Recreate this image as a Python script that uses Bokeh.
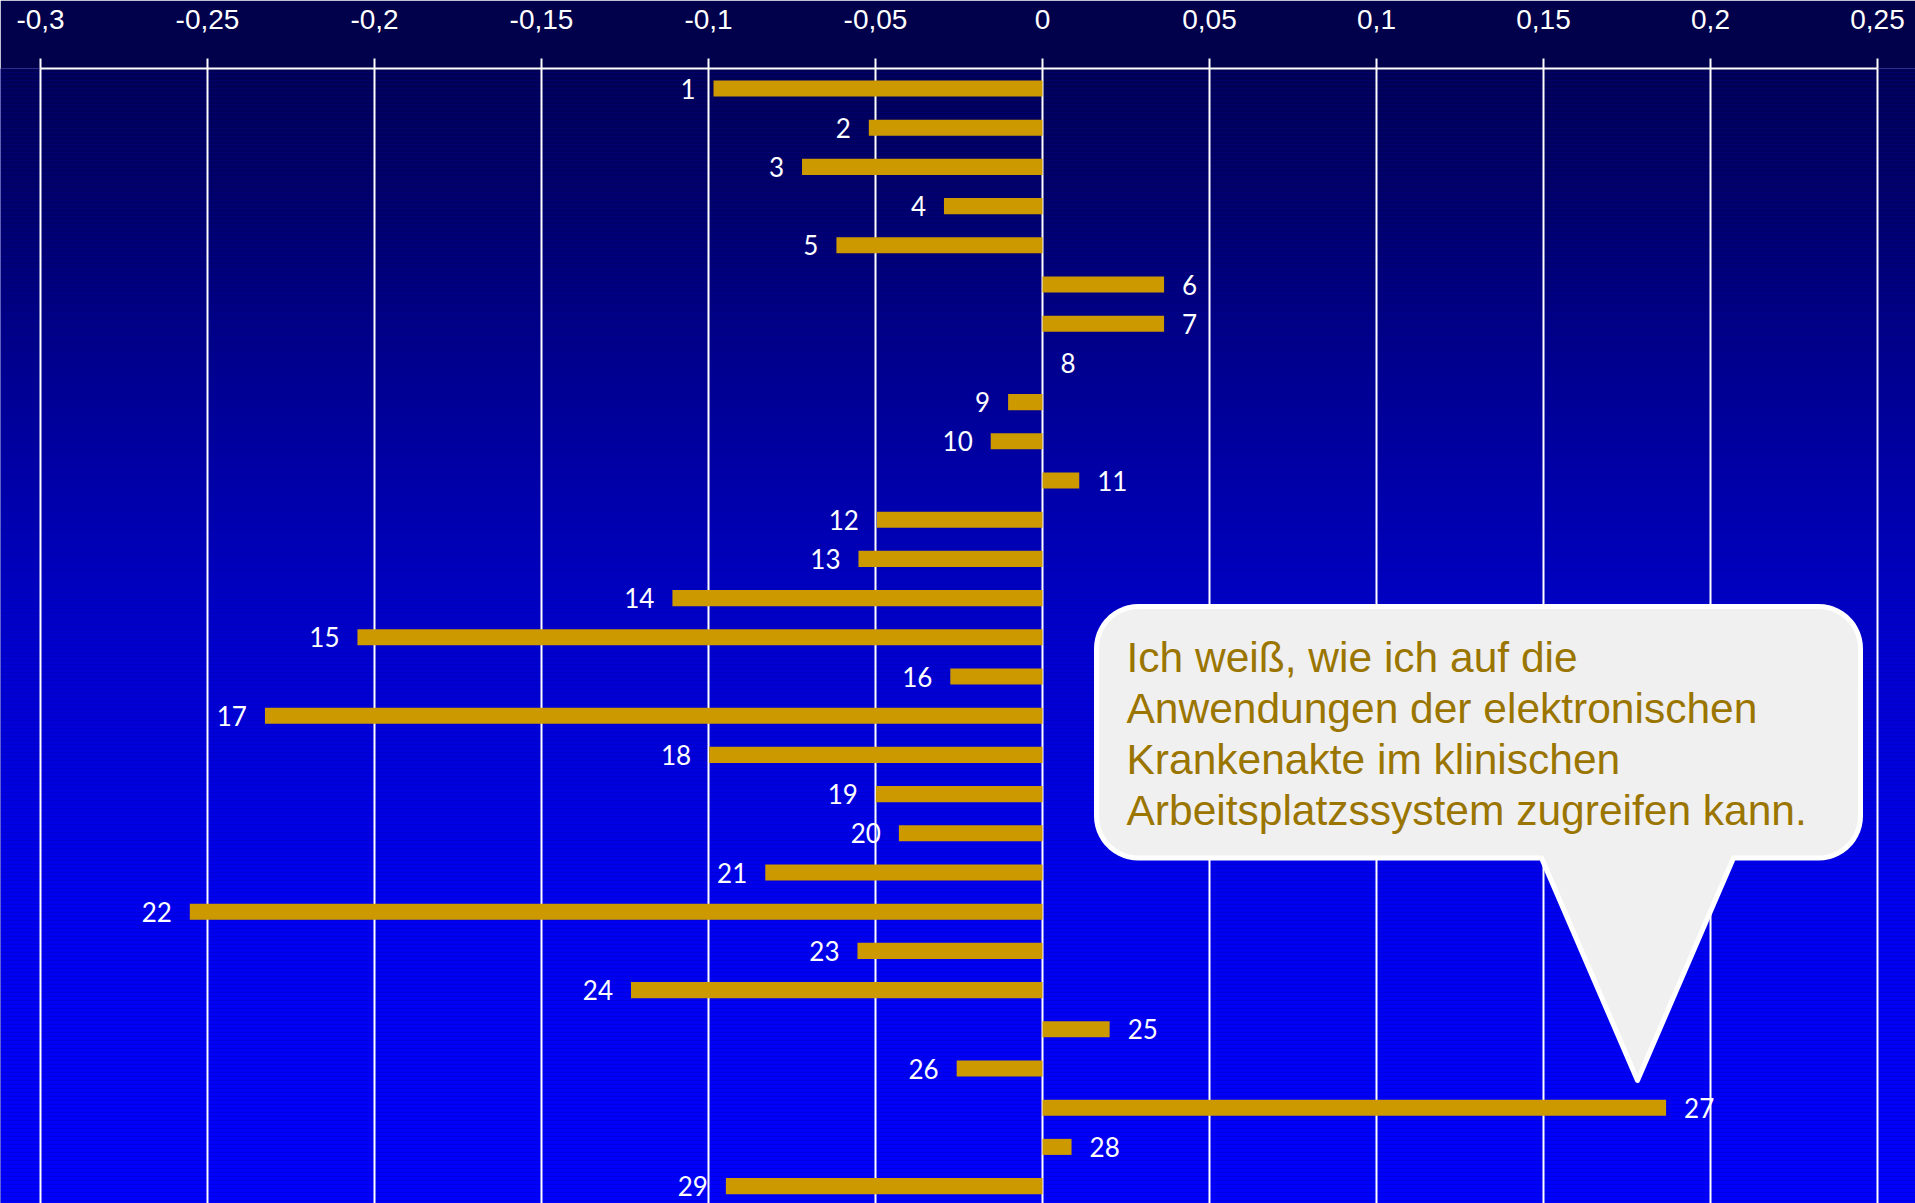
import numpy as np
from bokeh.plotting import figure
from bokeh.models import Range1d, FixedTicker, ColumnDataSource
from bokeh.core.properties import value
from bokeh.embed import file_html
from bokeh.resources import INLINE

# ---------------- data ----------------
items = [str(i) for i in range(1, 30)]
rows = list(range(1, 30))
scores = [-0.0985, -0.052, -0.072, -0.0295, -0.0617, 0.0364, 0.0364, 0.0, -0.0103, -0.0155,
          0.011, -0.0496, -0.0551, -0.1108, -0.2051, -0.0276, -0.2328, -0.0998, -0.0499, -0.043,
          -0.083, -0.2553, -0.0554, -0.1232, 0.0201, -0.0257, 0.1867, 0.0087, -0.0948]
tick_values = [-0.3, -0.25, -0.2, -0.15, -0.1, -0.05, 0, 0.05, 0.1, 0.15, 0.2, 0.25]
tick_labels = ["-0,3", "-0,25", "-0,2", "-0,15", "-0,1", "-0,05", "0", "0,05", "0,1", "0,15", "0,2", "0,25"]
callout_lines = ["Ich weiß, wie ich auf die",
                 "Anwendungen der elektronischen",
                 "Krankenakte im klinischen",
                 "Arbeitsplatzssystem zugreifen kann."]

# ---------------- layout ----------------
W, H = 1915, 1203
TOP = 68
PX_PER_X = 1837 / 0.55
X0 = -0.3 - 40 / PX_PER_X
X1 = X0 + W / PX_PER_X
ROW_PX = 39.2
Y_TOP = 1 - 20 / ROW_PX
Y_BOT = Y_TOP + (H - TOP) / ROW_PX


def px_x(page_x):
    return X0 + page_x / PX_PER_X


def px_y(page_y):
    return Y_TOP + (page_y - TOP) / ROW_PX


p = figure(width=W, height=H, output_backend="svg", toolbar_location=None,
           x_range=Range1d(X0, X1), y_range=Range1d(Y_BOT, Y_TOP),
           x_axis_location="above", y_axis_location=None,
           min_border_left=0, min_border_right=0, min_border_bottom=0, min_border_top=TOP)
p.border_fill_color = "#00004B"
p.background_fill_color = "#0000A0"
p.outline_line_color = None

# background gradient (style)
ys = np.arange(TOP, H + 4, 4)
stops_y = [0, 200, 400, 640, 900, 1203]
stops_b = [75, 105, 150, 205, 238, 252]
blues = np.interp(ys + 2, stops_y, stops_b).astype(int)
p.quad(left=X0, right=X1, top=[px_y(v) for v in ys], bottom=[px_y(v + 4) for v in ys],
       fill_color=["#0000%02X" % b for b in blues], line_color=None, level="image")

# axis
ax = p.xaxis[0]
ax.ticker = FixedTicker(ticks=tick_values)
ax.major_label_overrides = dict(zip(tick_values, tick_labels))
ax.bounds = (-0.3, 0.25)
ax.axis_line_color = "white"
ax.axis_line_width = 2
ax.major_tick_line_color = "white"
ax.major_tick_line_width = 2
ax.major_tick_in = 0
ax.major_tick_out = 10
ax.minor_tick_line_color = None
ax.major_label_text_color = "white"
ax.major_label_text_font = "Liberation Sans"
ax.major_label_text_font_size = "28px"
ax.major_label_standoff = 30

p.xgrid.ticker = FixedTicker(ticks=tick_values)
p.xgrid.grid_line_color = "white"
p.xgrid.grid_line_width = 2
p.ygrid.grid_line_color = None

# bars
src = ColumnDataSource(dict(
    y=rows, v=scores, lab=items,
    align=["right" if s < 0 else "left" for s in scores],
    off=[-18 if s < 0 else 18 for s in scores],
))
p.hbar(y="y", left=0, right="v", height=0.41, source=src,
       fill_color="#CC9900", line_color=None)
p.text(x="v", y="y", text="lab", source=src, text_align="align", x_offset="off",
       text_baseline="middle", text_color="white",
       text_font=value("Lato"), text_font_size="26px")

# callout (annotation shape)
L, T, R, B, RAD = 1096, 606, 1860, 857.5, 42
tail = (1541, (1637, 1080), 1733)
pts = []


def arc(cx, cy, a0, a1):
    for a in np.linspace(a0, a1, 14):
        pts.append((cx + RAD * np.cos(a), cy + RAD * np.sin(a)))


arc(L + RAD, T + RAD, np.pi, 1.5 * np.pi)
arc(R - RAD, T + RAD, 1.5 * np.pi, 2 * np.pi)
arc(R - RAD, B - RAD, 0, 0.5 * np.pi)
pts += [(tail[2], B), tail[1], (tail[0], B)]
arc(L + RAD, B - RAD, 0.5 * np.pi, np.pi)
p.patch(x=[px_x(a) for a, b in pts], y=[px_y(b) for a, b in pts],
        fill_color="#F0F0F0", line_color="white", line_width=5, line_join="round")

base0 = 656.5
p.text(x=[px_x(1126)] * 4, y=[px_y(base0 + 51.3 * i) for i in range(4)], text=callout_lines,
       text_align="left", text_baseline="middle", text_color="#9A7500",
       text_font=value("Liberation Sans"), text_font_size="42.5px")

open("out.html", "w").write(file_html(p, INLINE))
